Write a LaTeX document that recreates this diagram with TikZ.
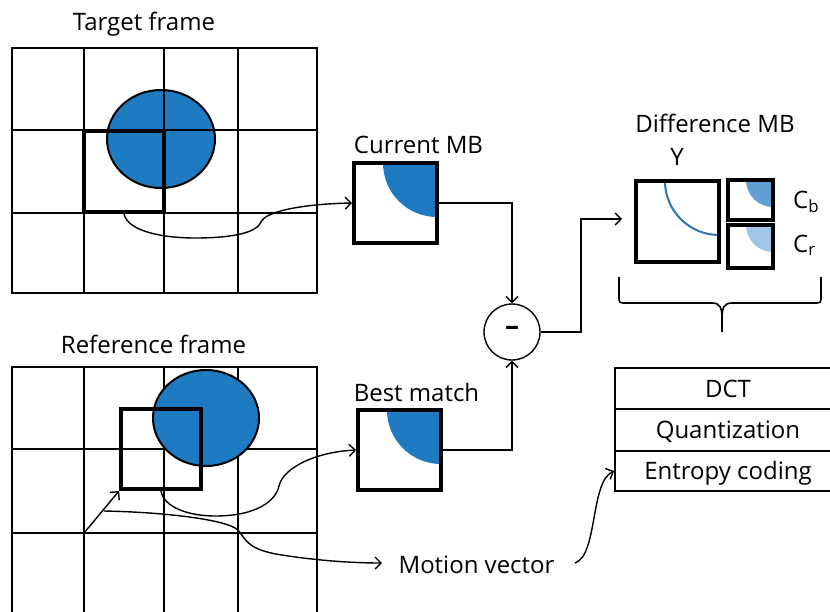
\documentclass[tikz,border=0pt]{standalone}
\usepackage{fontspec}
\setmainfont{Open Sans}
\usetikzlibrary{arrows.meta}
\definecolor{mblue}{RGB}{31,123,193}
\definecolor{cbblue}{RGB}{98,158,212}
\definecolor{crblue}{RGB}{160,198,232}
\definecolor{arcblue}{RGB}{46,117,182}
\tikzset{
  gridl/.style={line width=1.4pt},
  frameline/.style={line width=2.6pt},
  mbbox/.style={draw, line width=3.8pt, inner sep=0pt, minimum width=83pt, minimum height=80pt},
  conn/.style={line width=1.4pt, -{Straight Barb[length=6pt,width=12pt,line width=1.4pt]}},
  cell/.style={draw, line width=1.8pt, inner sep=0pt, minimum width=226pt, text height=17pt, text depth=0pt},
  lbl/.style={anchor=base, inner sep=0pt},
  blob/.style={fill=mblue, draw=black, line width=2pt}
}
\begin{document}
\begin{tikzpicture}[x=1pt,y=-1pt,font=\fontsize{24}{28}\selectfont]
\useasboundingbox (0,0) rectangle (830,611);
\clip (0,0) rectangle (830,611);

% ---------- Target frame ----------
\node[lbl] (tlabel) at (144,30) {Target frame};
\fill[blob] (161,139) ellipse [x radius=54, y radius=49];
\foreach \x in {84,164,238} \draw[gridl] (\x,48) -- (\x,293);
\foreach \y in {130,213} \draw[gridl] (12,\y) -- (317,\y);
\draw[frameline] (12,48) rectangle (317,293);
\node[mbbox, minimum width=80pt, minimum height=81pt] (tmb) at (124,171.5) {};

% ---------- Reference frame ----------
\node[lbl] (rlabel) at (153.5,353) {Reference frame};
\foreach \x in {84,164,238} \draw[gridl] (\x,367) -- (\x,620);
\foreach \y in {449,533} \draw[gridl] (12,\y) -- (317,\y);
\draw[frameline] (12,367) rectangle (317,625);
\fill[blob] (206,418) ellipse [x radius=53, y radius=48];
\node[mbbox, minimum width=80pt, minimum height=80pt] (rmb) at (161,449) {};

% ---------- Current MB / Best match ----------
\node[lbl] (clabel) at (418.5,153) {Current MB};
\node[mbbox, path picture={\fill[mblue] (path picture bounding box.north east) circle [radius=54];}] (cur) at (395.5,203) {};
\node[lbl] (blabel) at (416.5,401) {Best match};
\node[mbbox, path picture={\fill[mblue] (path picture bounding box.north east) circle [radius=54];}] (best) at (399.5,450) {};

% ---------- Subtraction ----------
\node[draw, circle, line width=1.4pt, minimum size=56pt, inner sep=0pt, font=\fontsize{28}{30}\selectfont\bfseries] (minus) at (512,332) {\raisebox{2pt}{–}};

% ---------- Difference MB ----------
\node[lbl] (dlabel) at (715,132) {Difference MB};
\node[lbl] (ylabel) at (677,165) {Y};
\node[mbbox, minimum width=83pt, minimum height=81pt, path picture={\draw[arcblue, line width=2pt] (path picture bounding box.north east) circle [radius=54];}] (ybox) at (677.5,221.5) {};
\node[mbbox, minimum width=45pt, minimum height=40pt, path picture={\fill[cbblue] (path picture bounding box.north east) circle [radius=27];}] (cb) at (750.5,200) {};
\node[mbbox, minimum width=45pt, minimum height=43pt, path picture={\fill[crblue] (path picture bounding box.north east) circle [radius=27];}] (cr) at (750.5,246.5) {};
\node[anchor=base west, inner sep=0pt] (cblabel) at (793,208) {C\textsubscript{b}};
\node[anchor=base west, inner sep=0pt] (crlabel) at (793,252) {C\textsubscript{r}};

% brace
\draw[line width=1.6pt] (619,277) -- (619,296) .. controls (619,303) .. (626,303) -- (712,303)
  .. controls (720,303) and (722,308) .. (722,318) -- (722,332);
\draw[line width=1.6pt] (821,277) -- (821,296) .. controls (821,303) .. (814,303) -- (732,303)
  .. controls (724,303) and (722,308) .. (722,318);

% ---------- Coding table ----------
\node[cell, minimum height=41pt] (dct) at (728,388.5) {DCT};
\node[cell, minimum height=42pt] (quant) at (728,430) {Quantization};
\node[cell, minimum height=40pt] (ent) at (728,471) {Entropy coding};

% ---------- Motion vector ----------
\node[lbl] (mv) at (476.5,573) {Motion vector};

% ---------- Connectors ----------
\coordinate (yin) at (622,219);
\coordinate (mvo) at (84,533);
\coordinate (mvs) at (104,511);
\coordinate (mvin) at (382,563);
\coordinate (mvout) at (575,563);

\draw[conn] (tmb.south) .. controls (128,232) and (165,238) .. (195,238)
  .. controls (235,238) and (257,232) .. (261,222)
  .. controls (265,212) and (300,204) .. (cur.west);
\draw[conn] (rmb.south) .. controls (164,508) and (190,516) .. (215,516)
  .. controls (258,516) and (276,500) .. (279,486)
  .. controls (283,468) and (315,452) .. (best.west);
\draw[conn] (mvo) -- (rmb.south west);
\draw[conn] (mvs) .. controls (160,512) and (226,519) .. (238,530)
  .. controls (246,540) and (248,550) .. (282,555)
  .. controls (320,561) and (355,563) .. (mvin);
\draw[conn] (cur.east) -| (minus.north);
\draw[conn] (best.east) -| (minus.south);
\draw[conn] (minus.east) -| (581,219) -- (yin);
\draw[conn] (mvout) .. controls (598,555) and (590,482) .. (ent.west);
\end{tikzpicture}
\end{document}
